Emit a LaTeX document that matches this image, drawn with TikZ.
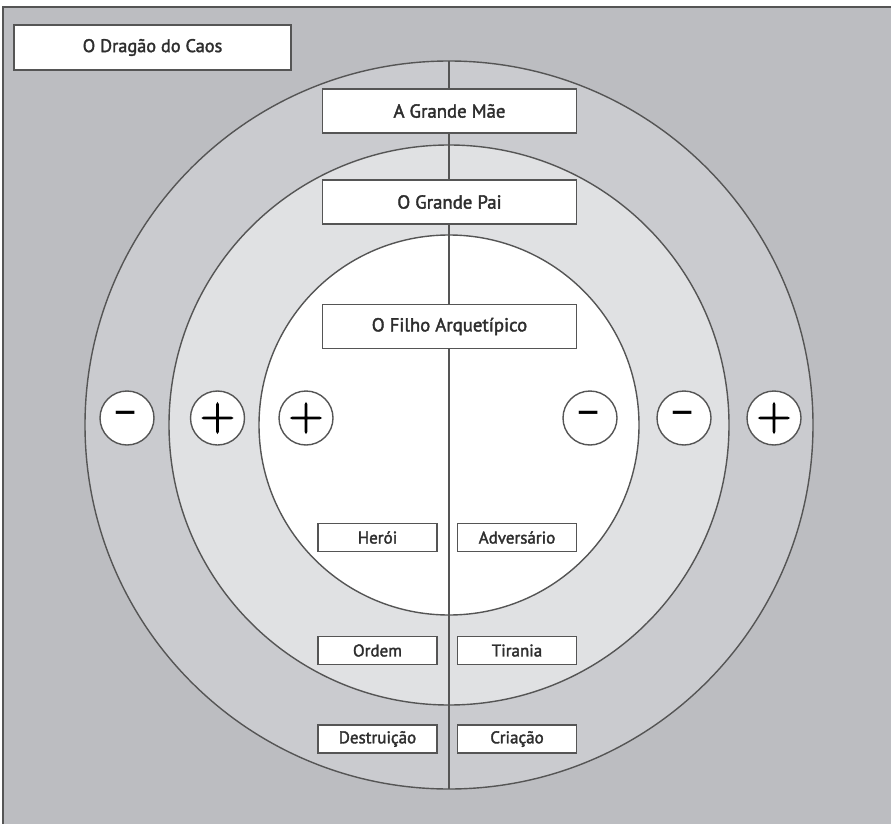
\documentclass[tikz,border=0pt]{standalone}
\usepackage{fontspec}
\setmainfont{PT Sans}
\newfontfamily\labelfont{PT Sans}[FakeBold=2]
\newfontfamily\signplus{lmroman10-regular.otf}[FakeBold=2.5]
\newfontfamily\signminus{lmroman10-regular.otf}[FakeStretch=1.3]
\definecolor{pagegray}{HTML}{BCBDC1}
\definecolor{outerring}{HTML}{CACBCF}
\definecolor{midring}{HTML}{E0E1E3}
\definecolor{linegray}{HTML}{555555}
\definecolor{textgray}{HTML}{2E2E2E}
\tikzset{
  ring/.style={circle, draw=linegray, line width=1.4, inner sep=0, outer sep=0},
  divider/.style={draw=linegray, line width=1.4},
  labelbox/.style={draw=linegray, line width=1.5, fill=white, inner sep=0,
    text=textgray, font=\labelfont\fontsize{17}{19}\selectfont},
  bigbox/.style={labelbox, minimum width=254, minimum height=44,
    font=\labelfont\fontsize{18.8}{20}\selectfont},
  smallbox/.style={labelbox, minimum width=119, minimum height=28},
  signcircle/.style={circle, draw=linegray, line width=1.4, fill=white,
    inner sep=0, minimum size=54, text=black},
  plussign/.style={signcircle, font=\signplus\fontsize{45}{45}\selectfont},
  minussign/.style={signcircle, font=\signminus\fontsize{54}{54}\selectfont}
}
\begin{document}
\begin{tikzpicture}[x=1pt, y=-1pt]
\useasboundingbox (0,0) rectangle (891,824);
% page and frame
\fill[white] (0,0) rectangle (891,824);
\fill[pagegray] (3,7) rectangle (891,824);
\draw[linegray, line width=2] (3,824) -- (3,7) -- (891,7);

% concentric rings
\coordinate (c) at (449,425);
\node[ring, fill=outerring, minimum size=728] (outer) at (c) {};
\node[ring, fill=midring, minimum size=560] (middle) at (c) {};
\node[ring, fill=white, minimum size=380] (inner) at (c) {};
\draw[divider] (outer.north) -- (outer.south);

% labels
\node[labelbox, minimum width=277, minimum height=45,
  font=\labelfont\fontsize{18.3}{20}\selectfont] (dragon) at (152.5,47.5) {O Dragão do Caos};
\node[bigbox] (mother) at (449.5,111) {A Grande Mãe};
\node[bigbox] (father) at (449.5,202) {O Grande Pai};
\node[bigbox] (son) at (449.5,326.5) {O Filho Arquetípico};

\node[smallbox] (hero) at (377.5,537.5) {Herói};
\node[smallbox] (adversary) at (517,537.5) {Adversário};
\node[smallbox] (order) at (377.5,650.5) {Ordem};
\node[smallbox] (tyranny) at (517,650.5) {Tirania};
\node[smallbox] (destruction) at (377.5,739) {Destruição};
\node[smallbox] (creation) at (517,739) {Criação};

% polarity marks
\node[minussign] (outerleft) at (127,418) {-};
\node[plussign] (midleft) at (217.5,418) {+};
\node[plussign] (innerleft) at (306,418) {+};
\node[minussign] (innerright) at (590,418) {-};
\node[minussign] (midright) at (684,418) {-};
\node[plussign] (outerright) at (774,418) {+};
\end{tikzpicture}
\end{document}
